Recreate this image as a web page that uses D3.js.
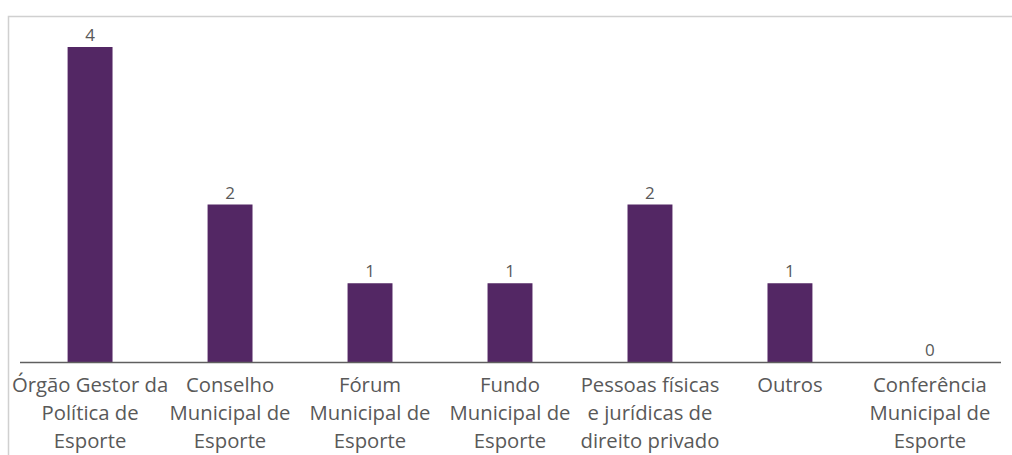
<!DOCTYPE html>
<html><head><meta charset="utf-8">
<script src="https://cdn.jsdelivr.net/npm/d3@7"></script>
<style>body{margin:0;background:#fff;}svg{display:block;font-family:"Open Sans",Lato,sans-serif;}</style>
</head><body>
<script>
const categories = [
  ["Órgão Gestor da","Política de","Esporte"],
  ["Conselho","Municipal de","Esporte"],
  ["Fórum","Municipal de","Esporte"],
  ["Fundo","Municipal de","Esporte"],
  ["Pessoas físicas","e jurídicas de","direito privado"],
  ["Outros"],
  ["Conferência","Municipal de","Esporte"]
];
const values = [4, 2, 1, 1, 2, 1, 0];

const W = 1012, H = 455;
const svg = d3.select("body").append("svg").attr("width", W).attr("height", H);

// chart frame
svg.append("path").attr("d", `M8.5,${H} V16.5 H${W}`).attr("fill","none").attr("stroke","#d0d0d0").attr("stroke-width",1.5);

const x = d3.scaleBand().domain(d3.range(categories.length)).range([20, 1000]).paddingInner(0.679).paddingOuter(0.34);
const y = d3.scaleLinear().domain([0, 4]).range([362, 47]);

svg.selectAll("rect.bar").data(values).join("rect")
  .attr("class","bar")
  .attr("x", (d,i) => x(i))
  .attr("width", x.bandwidth())
  .attr("y", d => y(d))
  .attr("height", d => y(0) - y(d))
  .attr("fill", "#532764");

svg.append("line").attr("x1",20).attr("x2",1001).attr("y1",362.5).attr("y2",362.5)
  .attr("stroke","#5f5f5f").attr("stroke-width",1.6);

svg.selectAll("text.val").data(values).join("text")
  .attr("class","val")
  .attr("x",(d,i)=>x(i)+x.bandwidth()/2)
  .attr("y", d => y(d) - 6)
  .attr("text-anchor","middle")
  .attr("font-size",17)
  .attr("fill","#595959")
  .text(d => d);

const lab = svg.selectAll("text.cat").data(categories).join("text")
  .attr("class","cat")
  .attr("text-anchor","middle")
  .attr("font-size",20.3)
  .attr("fill","#595959");
lab.selectAll("tspan").data((d,i)=>d.map(s=>({s,i}))).join("tspan")
  .attr("x", d => x(d.i)+x.bandwidth()/2)
  .attr("y", (d,j) => 392 + j*28)
  .text(d => d.s);
</script>
</body></html>
